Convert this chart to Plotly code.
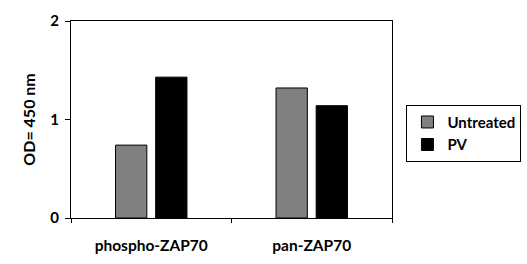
import plotly.graph_objects as go

categories = ["phospho-ZAP70", "pan-ZAP70"]
untreated = [0.74, 1.32]
pv = [1.43, 1.14]
series_names = ["Untreated", "PV"]
series_colors = ["#808080", "#000000"]

font_family = "Lato, 'Open Sans', 'DejaVu Sans', sans-serif"

fig = go.Figure()
for name, vals, col in zip(series_names, [untreated, pv], series_colors):
    fig.add_trace(go.Bar(
        x=categories, y=vals, name=name,
        marker=dict(color=col, line=dict(color="black", width=1)),
    ))

fig.update_layout(
    width=527, height=264,
    margin=dict(l=71, r=135, t=21, b=46, autoexpand=False),
    paper_bgcolor="white", plot_bgcolor="white",
    barmode="group", bargap=0.5, bargroupgap=0.22,
    font=dict(family=font_family, size=14, color="black"),
    showlegend=True,
    legend=dict(
        x=1.045, y=0.575, xanchor="left", yanchor="top",
        bordercolor="black", borderwidth=1,
        font=dict(family=font_family, size=15, color="black", weight="bold"),
        tracegroupgap=4, itemwidth=30,
    ),
)
fig.update_xaxes(
    type="category", tickson="boundaries", ticks="outside", ticklen=4,
    tickcolor="black", showline=True, linecolor="black", linewidth=1,
    mirror=True, showgrid=False, ticklabelstandoff=13, automargin=False,
    tickfont=dict(family=font_family, size=15.5, weight="bold"),
)
fig.update_yaxes(
    range=[0, 2], tickvals=[0, 1, 2], ticks="outside", ticklen=5,
    tickcolor="black", showline=True, linecolor="black", linewidth=1,
    mirror=True, showgrid=False, zeroline=False, ticklabelstandoff=3,
    automargin=False,
    tickfont=dict(family=font_family, size=15, weight="bold"),
    title=dict(text="OD= 450 nm", font=dict(family=font_family, size=16, weight="bold"), standoff=10),
)

fig.write_html("out.html")
